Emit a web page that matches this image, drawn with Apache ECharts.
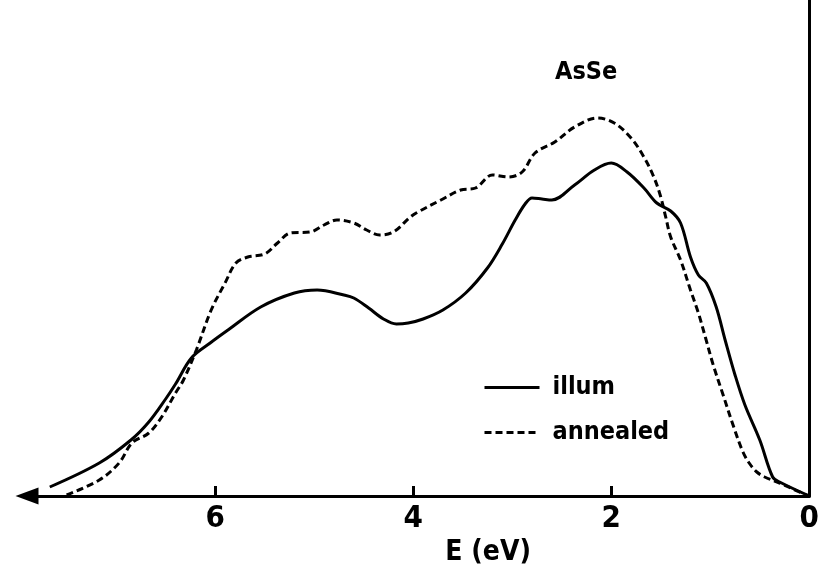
<!DOCTYPE html>
<html>
<head>
<meta charset="utf-8">
<script src="https://cdn.jsdelivr.net/npm/echarts@6/dist/echarts.min.js"></script>
<style>
html,body{margin:0;padding:0;background:#fff;}
#chart{width:822px;height:576px;}
</style>
</head>
<body>
<div id="chart"></div>
<script>
// Energy (eV) and intensity (arbitrary units)
const illumE = [7.67,7.17,6.85,6.67,6.50,6.40,6.24,6.05,5.87,5.54,5.20,4.97,4.70,4.60,4.45,4.30,4.17,4.05,3.90,3.70,3.47,3.25,3.10,2.97,2.87,2.80,2.70,2.60,2.37,2.17,2.00,1.84,1.67,1.54,1.40,1.30,1.20,1.12,1.04,0.94,0.85,0.75,0.65,0.50,0.37,0.30,0.00];
const illumI = [9,33,56,74,97,112,138,153,166,189,203,206,201,198,188,177,172,173,177,186,203,228,252,276,292,298,297,296,311,326,333,324,308,293,285,273,239,221,213,189,156,121,91,56,19,14,0];
const annealE = [7.50,7.17,6.97,6.84,6.67,6.54,6.40,6.32,6.19,6.04,5.90,5.79,5.67,5.50,5.37,5.24,5.04,4.90,4.77,4.60,4.47,4.34,4.20,4.04,3.97,3.72,3.52,3.37,3.20,3.04,2.90,2.77,2.57,2.37,2.14,1.97,1.80,1.67,1.57,1.50,1.45,1.40,1.30,1.20,1.12,1.05,0.97,0.87,0.77,0.67,0.60,0.53,0.45,0.30,0.10,0.00];
const annealI = [1,16,33,53,63,79,103,116,146,186,213,233,239,242,253,263,264,271,276,273,266,261,264,278,283,296,306,308,321,319,324,343,354,369,378,373,358,339,319,299,279,259,236,206,183,159,131,101,71,44,32,24,19,13,4,0];
const xTicks = [0,2,4,6];
const seriesNames = ['illum','annealed'];

const FONT = 'DejaVu Sans Condensed';
const zip = (a,b) => a.map((v,i)=>[v,b[i]]);

const chart = echarts.init(document.getElementById('chart'), null, {renderer:'canvas'});
chart.setOption({
  backgroundColor:'#fff',
  animation:false,
  title:{
    text:'AsSe', left:555, top:60, padding:0,
    textStyle:{fontFamily:FONT, fontSize:25, fontWeight:'bold', color:'#000'}
  },
  legend:{
    orient:'vertical', left:483, top:375, padding:0,
    itemWidth:55, itemHeight:14, itemGap:20,
    data:seriesNames,
    itemStyle:{opacity:0},
    lineStyle:{width:3},
    textStyle:{fontFamily:FONT, fontSize:25, fontWeight:'bold', color:'#000', padding:[0,0,3,8]}
  },
  grid:{left:27, right:5, top:0, bottom:80},
  xAxis:{
    type:'value', inverse:true, min:0, max:7.9, interval:2,
    name:'E (eV)', nameLocation:'middle', nameGap:42,
    nameTextStyle:{fontFamily:FONT, fontSize:28, fontWeight:'bold', color:'#000', padding:[0,0,0,140]},
    axisLine:{show:true, onZero:false, symbol:['triangle','none'], symbolSize:[17,23], lineStyle:{color:'#000', width:3}},
    axisTick:{show:true, inside:true, length:10, customValues:xTicks, lineStyle:{color:'#000', width:3}},
    axisLabel:{fontFamily:FONT, fontSize:31, fontWeight:'bold', color:'#000', margin:7, customValues:xTicks},
    splitLine:{show:false}
  },
  yAxis:{
    type:'value', min:0, max:496, position:'right',
    axisLine:{show:true, onZero:false, lineStyle:{color:'#000', width:3}},
    axisTick:{show:false}, axisLabel:{show:false}, splitLine:{show:false}
  },
  series:[
    {name:seriesNames[0], type:'line', data:zip(illumE, illumI), smooth:0.35, showSymbol:false, symbol:'none',
     lineStyle:{color:'#000', width:3}, itemStyle:{color:'#000'}},
    {name:seriesNames[1], type:'line', data:zip(annealE, annealI), smooth:0.35, showSymbol:false, symbol:'none',
     lineStyle:{color:'#000', width:3, type:[7,4]}, itemStyle:{color:'#000'}}
  ]
});
</script>
</body>
</html>
